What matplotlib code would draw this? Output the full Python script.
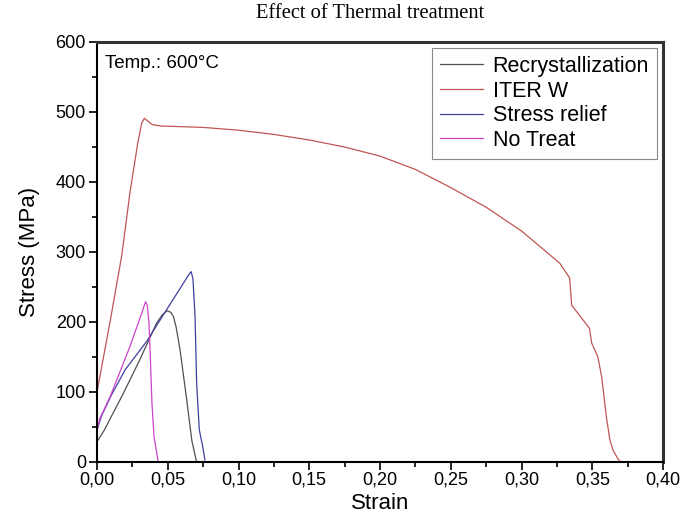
'''
  Stress-strain curves at 600 C for different thermal treatments.
'''

import matplotlib
matplotlib.use('Agg')
import matplotlib.pyplot as plt
from matplotlib.ticker import MultipleLocator, FuncFormatter

###########################################################################

# curves (strain, stress in MPa)

strain_recryst = [0.0, 0.005, 0.0186, 0.03, 0.042, 0.046, 0.0495, 0.052, 0.054,
                  0.056, 0.0587, 0.0634, 0.067, 0.070, 0.071]
stress_recryst = [29, 45, 98, 145, 198, 210, 216, 214, 208,
                  192, 160, 89, 31, 3, 0]

strain_iter = [0.0, 0.0092, 0.0175, 0.0233, 0.029, 0.0316, 0.0335, 0.036, 0.039,
               0.045, 0.075, 0.10, 0.125, 0.15, 0.175, 0.20, 0.225, 0.25,
               0.275, 0.30, 0.32, 0.327, 0.334, 0.3355,
               0.348, 0.3496, 0.354, 0.3567, 0.360, 0.3625, 0.3647, 0.368, 0.370]
stress_iter = [100, 200, 295, 385, 458, 484, 491, 487, 482,
               480, 478, 474, 468, 460, 450, 437, 418, 392,
               364, 330, 296, 284, 263, 224,
               191, 170, 150, 121, 64, 31, 17, 5, 0]

strain_relief = [0.0, 0.003, 0.010, 0.020, 0.035, 0.049, 0.060, 0.065, 0.0665,
                 0.0678, 0.0693, 0.0704, 0.0723, 0.0747, 0.0763]
stress_relief = [45, 65, 95, 132, 172, 217, 252, 268, 272,
                 262, 208, 113, 46, 22, 3]

strain_notreat = [0.0, 0.002, 0.0092, 0.0233, 0.032, 0.0343, 0.0355, 0.0367,
                  0.0377, 0.0388, 0.0403, 0.0433]
stress_notreat = [45, 62, 93, 165, 215, 229, 224, 200, 150, 85, 36, 0]

###########################################################################

plt.rcParams['font.family'] = ['Liberation Sans', 'DejaVu Sans']

fig = plt.figure(figsize=(6.81, 5.28), dpi=100)
ax = fig.add_axes([97/681, 66/528, 566/681, 420/528])

ax.plot(strain_recryst, stress_recryst, color='#505050', lw=0.9, label="Recrystallization")
ax.plot(strain_iter, stress_iter, color='#c05555', lw=0.9, label="ITER W")
ax.plot(strain_relief, stress_relief, color='#4040a0', lw=0.9, label="Stress relief")
ax.plot(strain_notreat, stress_notreat, color='#cc44cc', lw=0.9, label="No Treat")

ax.set_xlim(0, 0.40)
ax.set_ylim(0, 600)
ax.xaxis.set_major_locator(MultipleLocator(0.05))
ax.xaxis.set_minor_locator(MultipleLocator(0.025))
ax.yaxis.set_major_locator(MultipleLocator(100))
ax.yaxis.set_minor_locator(MultipleLocator(50))
ax.xaxis.set_major_formatter(FuncFormatter(lambda v, p: "{:.2f}".format(v).replace('.', ',')))
ax.tick_params(which='major', direction='out', length=6, width=1.2, labelsize=13,
               top=False, right=False, pad=2)
ax.tick_params(axis='x', which='major', pad=1)
ax.tick_params(which='minor', direction='out', length=3.5, width=1.2,
               top=False, right=False)
for side in ['left', 'bottom']:
    ax.spines[side].set_linewidth(1.5)
for side in ['top', 'right']:
    ax.spines[side].set_linewidth(2.2)
    ax.spines[side].set_color('#333333')

ax.set_xlabel("Strain", fontsize=16, labelpad=3)
ax.set_ylabel("Stress (MPa)", fontsize=16, labelpad=11)

ax.text(0.015, 0.97, "Temp.: 600°C", transform=ax.transAxes, fontsize=13.5,
        va='top', ha='left')

leg = ax.legend(loc='upper right', fontsize=15.5, handlelength=2.0,
                handletextpad=0.45, borderpad=0.35, labelspacing=0.17,
                borderaxespad=0.3, fancybox=False, framealpha=1)
leg.get_frame().set_edgecolor('#888888')
leg.get_frame().set_linewidth(0.8)

fig.text(370/681, 1 - 13/528, "Effect of Thermal treatment", ha='center', va='center',
         fontsize=14.8, family='Liberation Serif')

fig.savefig("out.png", dpi=100, facecolor='w')
